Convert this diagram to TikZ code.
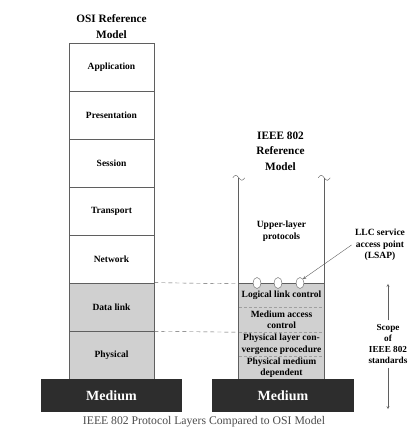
\documentclass[tikz,border=0pt]{standalone}
\usepackage{fontspec}
\setmainfont{Liberation Serif}
\usepackage{tikz}
\usetikzlibrary{calc,shapes.geometric}
\definecolor{LayerLine}{RGB}{95,95,95}
\definecolor{LayerGray}{RGB}{208,208,208}
\definecolor{MediumDark}{RGB}{45,45,45}
\definecolor{CaptionGray}{RGB}{75,75,75}

\begin{document}
\begin{tikzpicture}[x=1pt,y=-1pt,>=stealth,
    labelfont/.style={font=\fontsize{9.5}{11.5}\selectfont\bfseries},
    osilayer/.style={draw=LayerLine,line width=0.7pt,minimum width=85,minimum height=48,labelfont},
    sublayer/.style={fill=LayerGray,minimum width=85,inner sep=0pt,align=center,labelfont},
    medium/.style={fill=MediumDark,text=white,minimum width=141,minimum height=33,
                   font=\fontsize{14}{16}\selectfont\bfseries},
    title/.style={align=center,font=\fontsize{11.3}{15.5}\selectfont\bfseries},
    sap/.style={ellipse,draw=LayerLine,fill=white,minimum width=8,minimum height=11,inner sep=0pt}]
  \useasboundingbox (0,0) rectangle (409,435);

  % OSI stack
  \node[title] (osititle) at (111.5,26.5) {OSI Reference\\Model};
  \node[osilayer] (app) at (111.5,67) {Application};
  \node[osilayer] (pres) at (111.5,115) {Presentation};
  \node[osilayer] (sess) at (111.5,163) {Session};
  \node[osilayer] (trans) at (111.5,211) {Transport};
  \node[osilayer] (net) at (111.5,259) {Network};
  \node[osilayer,fill=LayerGray] (dl) at (111.5,307) {Data link};
  \node[osilayer,fill=LayerGray] (phy) at (111.5,355) {Physical};
  \node[medium] (medL) at (111.5,395.5) {Medium};

  % IEEE 802 stack
  \node[title] (ieeetitle) at (280.5,151) {IEEE 802\\Reference\\Model};
  \node[minimum width=85,minimum height=106,align=center,labelfont] (upper) at (281.5,231) {Upper-layer\\protocols};
  \node[sublayer,minimum height=23] (llc) at (281.5,295.5) {Logical link control};
  \node[sublayer,minimum height=25] (mac) at (281.5,319.5) {Medium access\\control};
  \node[sublayer,minimum height=24] (plcp) at (281.5,344) {Physical layer con-\\vergence procedure};
  \node[sublayer,minimum height=23] (pmd) at (281.5,367.5) {Physical medium\\dependent};
  \node[medium,minimum width=142] (medR) at (283,395.5) {Medium};

  \draw[LayerLine!60,dash pattern=on 3pt off 2pt] (llc.south west) -- (llc.south east);
  \draw[LayerLine!60,dash pattern=on 3pt off 2pt] (mac.south west) -- (mac.south east);
  \draw[LayerLine!60,dash pattern=on 3pt off 2pt] (plcp.south west) -- (plcp.south east);
  \draw[LayerLine,line width=0.7pt] (upper.north west) -- (pmd.south west);
  \draw[LayerLine,line width=0.7pt] (upper.north east) -- (pmd.south east);
  \draw[LayerLine,line width=0.7pt] (llc.north west) -- (llc.north east);
  \draw[LayerLine] (upper.north west) ++(-6,0) sin ++(3,-2.5) cos ++(3,2.5) sin ++(3,2.5) cos ++(3,-2.5);
  \draw[LayerLine] (upper.north east) ++(-6,0) sin ++(3,-2.5) cos ++(3,2.5) sin ++(3,2.5) cos ++(3,-2.5);

  % service access points
  \node[sap] (sap1) at (257,283) {};
  \node[sap] (sap2) at (278,283) {};
  \node[sap] (sap3) at (300,283) {};

  \draw[LayerLine,dash pattern=on 4pt off 3pt] (dl.north east) -- (llc.north west);
  \draw[LayerLine,dash pattern=on 4pt off 3pt] (dl.south east) -- (mac.south west);

  \node[align=center,labelfont] (lsap) at (380,245) {LLC service\\access point\\(LSAP)};
  \draw[->,LayerLine] (lsap.west) -- (sap3.north east);

  \node[align=center,labelfont,font=\fontsize{9.2}{11.3}\selectfont\bfseries] (scope) at (388,344) {Scope\\of\\IEEE 802\\standards};
  \draw[->,LayerLine] (scope.north) -- (scope.north |- llc.north);
  \draw[->,LayerLine] (scope.south) -- ($(scope.south |- medR.south)+(0,-3)$);

  \node[font=\fontsize{11.7}{14}\selectfont,text=CaptionGray] (caption) at (204,422)
    {IEEE 802 Protocol Layers Compared to OSI Model};
\end{tikzpicture}
\end{document}
